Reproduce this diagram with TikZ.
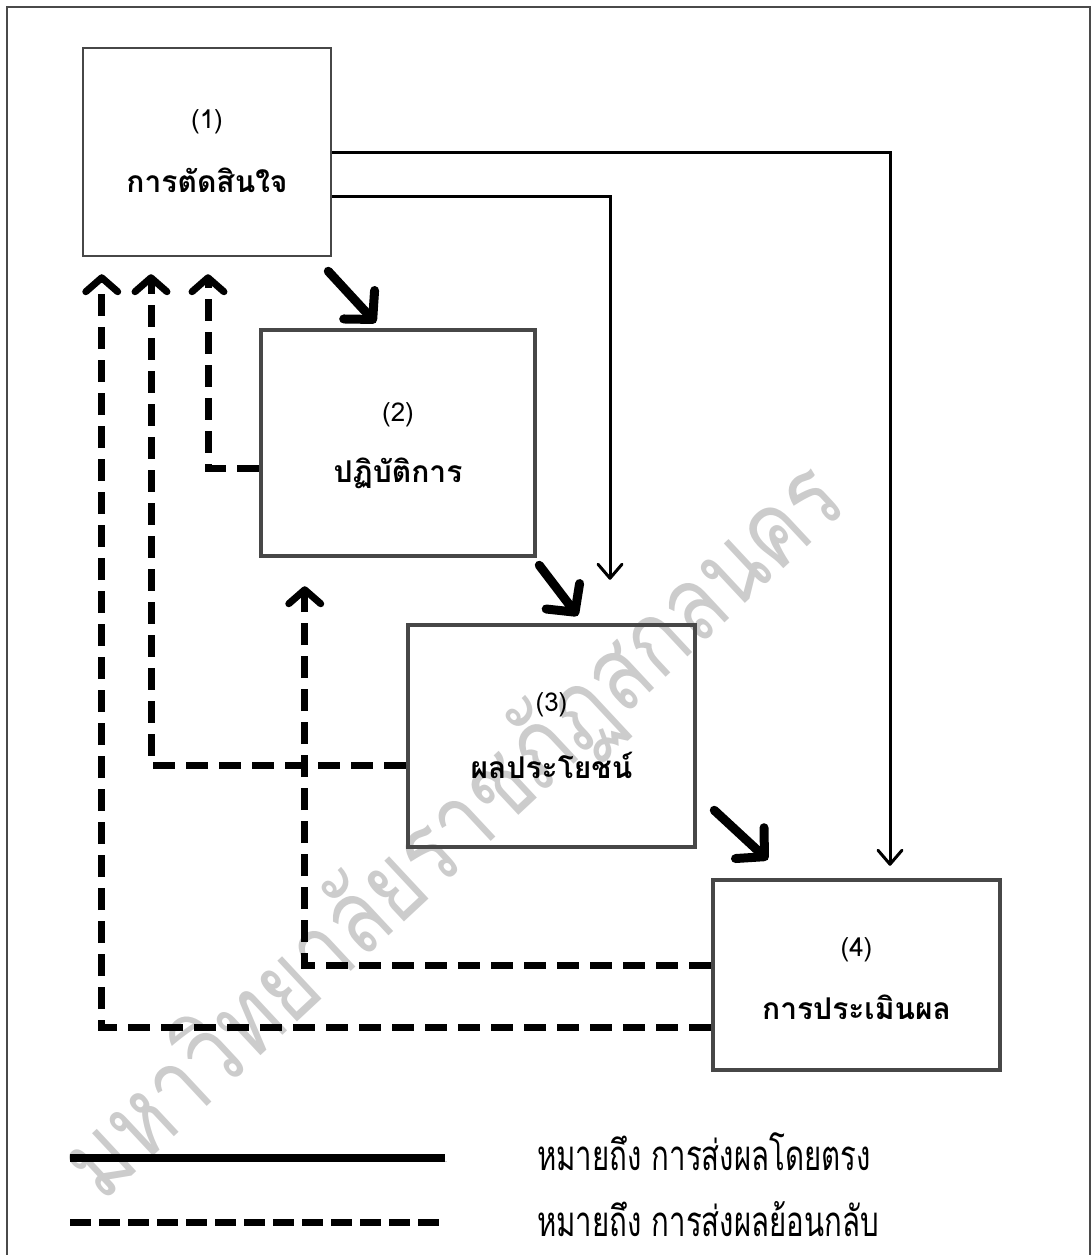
\documentclass[tikz,border=0pt]{standalone}
\usepackage{fontspec}
\usetikzlibrary{arrows.meta,calc}
\newfontfamily\thai[Script=Thai]{Loma}
\newfontfamily\thainarrow[Script=Thai,FakeStretch=0.7]{Loma}
\newfontfamily\thaiwm[Script=Thai,FakeStretch=0.8]{Loma}
\definecolor{boxgray}{HTML}{474747}
\definecolor{framegray}{HTML}{4A4A4A}
\begin{document}
\begin{tikzpicture}[x=1pt,y=-1pt,
  bbox/.style n args={3}{draw=boxgray, line width=#3, minimum width=#1, minimum height=#2, inner sep=0pt},
  numtext/.style={font=\thai\fontsize{26}{30}\selectfont, inner sep=0pt},
  labtext/.style={font=\thai\bfseries\fontsize{30}{34}\selectfont, inner sep=0pt},
  direct/.style={line width=3pt, -{Straight Barb[length=14pt,width=24pt,line cap=round,line join=round]}},
  bigarrow/.style={line width=9pt, line cap=round,
    preaction={draw=black!18, transform canvas={shift={(2pt,-3pt)}}},
    -{Straight Barb[length=20pt,width=42pt,line cap=round,line join=round]}},
  fb/.style={line width=7pt, dash pattern=on 22pt off 11pt,
    -{Straight Barb[length=14pt,width=32pt,line cap=round,line join=round]}},
  legtext/.style={font=\thainarrow\fontsize{42}{46}\selectfont, inner sep=0pt, anchor=west}
]
\useasboundingbox (0,0) rectangle (1091,1255);

% outer frame
\draw[framegray, line width=2.5pt] (7,1262) -- (7,7) -- (1090,7) -- (1090,1262);

% watermark
\node[rotate=43, text=black!20, font=\thaiwm\fontsize{104}{110}\selectfont, inner sep=0pt] (wm) at (455,832) {มหาวิทยาลัยราชภัฏสกลนคร};

% boxes
\node[bbox={248pt}{208pt}{2.5pt}] (b1) at (207,152) {};
\node[bbox={274pt}{226pt}{4.5pt}] (b2) at (398,443) {};
\node[bbox={287pt}{222pt}{4.5pt}] (b3) at (551.5,736) {};
\node[bbox={287pt}{190pt}{4.5pt}] (b4) at (856.5,975) {};

\node[numtext] (b1n) at ([yshift=30pt]b1.center) {(1)};
\node[labtext] (b1t) at ([yshift=-28pt]b1.center) {การตัดสินใจ};
\node[numtext] (b2n) at ([yshift=28pt]b2.center) {(2)};
\node[labtext] (b2t) at ([yshift=-30pt]b2.center) {ปฏิบัติการ};
\node[numtext] (b3n) at ([yshift=31pt]b3.center) {(3)};
\node[labtext] (b3t) at ([yshift=-29pt]b3.center) {ผลประโยชน์};
\node[numtext] (b4n) at ([yshift=25pt]b4.center) {(4)};
\node[labtext] (b4t) at ([yshift=-32pt]b4.center) {การประเมินผล};

% direct effects (thin)
\draw[direct] (b1.east) -| ([xshift=33.5pt,yshift=12pt]b4.north);
\draw[direct] ([yshift=-44pt]b1.east) -| ([xshift=58.5pt,yshift=43pt]b3.north);

% direct effects (thick diagonal)
\draw[bigarrow] ([xshift=-4pt,yshift=-14pt]b1.south east) -- ([xshift=117pt,yshift=5pt]b2.north west);
\draw[bigarrow] ([xshift=2pt,yshift=-7pt]b2.south east) -- ([xshift=172pt,yshift=7pt]b3.north west);
\draw[bigarrow] ([xshift=17pt,yshift=39pt]b3.south east) -- ([xshift=57pt,yshift=18pt]b4.north west);

% feedback
\draw[fb] ([yshift=-25pt]b2.west) -| ([xshift=1pt,yshift=-17pt]b1.south);
\draw[fb] ([yshift=-29pt]b3.west) -| ([xshift=-56pt,yshift=-17pt]b1.south);
\draw[fb] ([yshift=10pt]b4.west) -| ([xshift=46pt,yshift=-28pt]b2.south west);
\draw[fb] ([yshift=-52pt]b4.west) -| ([xshift=20pt,yshift=-17pt]b1.south west);

% legend
\coordinate (ls1) at (70,1158);
\coordinate (ls2) at (445,1158);
\draw[line width=8pt, preaction={draw=black!18, transform canvas={shift={(2pt,-3pt)}}}] (ls1) -- (ls2);
\coordinate (ld1) at (70,1222);
\coordinate (ld2) at (440,1222);
\draw[line width=7pt, dash pattern=on 21pt off 8pt] (ld1) -- (ld2);
\node[legtext] (lt1) at (537,1152) {หมายถึง การส่งผลโดยตรง};
\node[legtext] (lt2) at (537,1219) {หมายถึง การส่งผลย้อนกลับ};
\end{tikzpicture}
\end{document}
